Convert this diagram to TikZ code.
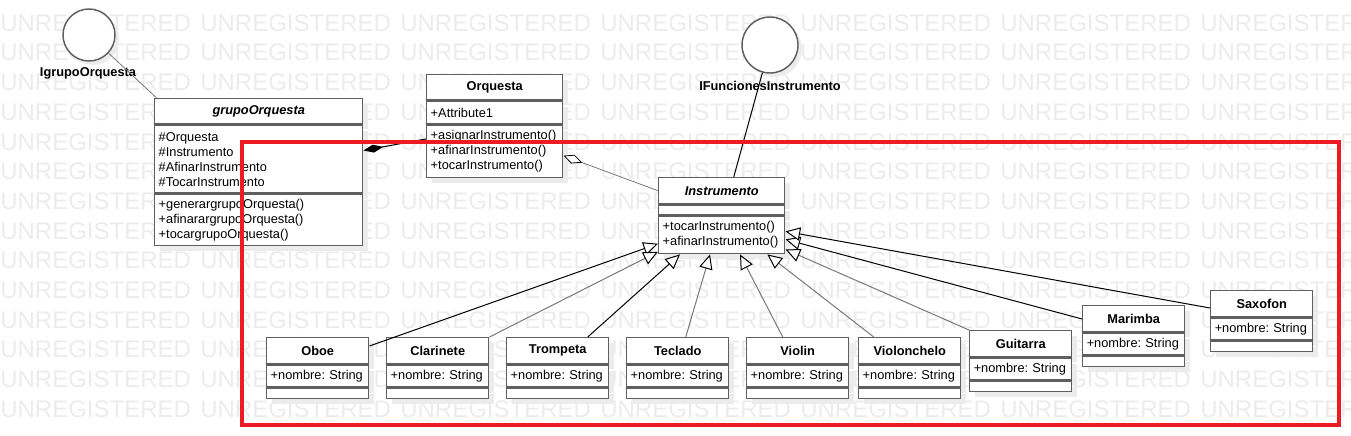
\documentclass[tikz,border=0pt]{standalone}
\usepackage{fontspec}
\setmainfont{Liberation Sans}
\usepackage{tikz}
\usetikzlibrary{arrows.meta,positioning,shadows}
\definecolor{borde}{RGB}{95,95,95}
\definecolor{gris}{RGB}{120,120,120}
\definecolor{rojo}{RGB}{237,28,36}
\definecolor{marcagris}{RGB}{236,236,236}
\definecolor{sombra}{RGB}{236,236,236}
\frenchspacing

\begin{document}
\begin{tikzpicture}[x=0.75pt,y=-0.75pt,
	caja/.style={draw=borde,line width=1.1pt,fill=white,inner xsep=3pt,inner ysep=0pt,align=left,anchor=north west,
		font=\fontsize{9.6}{11.25}\selectfont,drop shadow={shadow xshift=4pt,shadow yshift=-4pt,fill=sombra,opacity=1}},
	titulo/.style={caja,align=center,font=\fontsize{9.6}{11.25}\selectfont\bfseries},
	abstracta/.style={titulo,font=\fontsize{9.6}{11.25}\selectfont\bfseries\itshape},
	interfaz/.style={circle,draw=borde,line width=1.1pt,fill=white,inner sep=0pt,drop shadow={shadow xshift=3pt,shadow yshift=-3pt,fill=sombra,opacity=1}},
	etiq/.style={font=\fontsize{9.6}{11.25}\selectfont\bfseries,inner sep=0pt},
	marca/.style={anchor=west,inner sep=0pt,text=marcagris,font=\fontsize{18}{18}\selectfont},
	gen/.style={line width=0.75pt,-{Triangle[length=11pt,width=10pt,color=black,fill=white]}}]
	\useasboundingbox (0,0) rectangle (1351,435);
	\clip (0,0) rectangle (1351,435);
	% marca de agua
	\foreach \f in {0,...,13}{
		\foreach \c in {0,...,6}{
			\node[marca] (wm-\f-\c) at (\c*200,23+\f*29.7) {UNREGISTERED};
		}
	}
	% interfaces
	\node[interfaz,minimum size=39pt] (igo) at (89,35) {};
	\node[etiq] (igo-t) at (88,73) {IgrupoOrquesta};
	\node[interfaz,minimum size=42pt] (ifi) at (770,45) {};
	\node[etiq] (ifi-t) at (770,86) {IFuncionesInstrumento};
	% clases de arriba
	\node[abstracta,text width=150pt,minimum height=18.75pt] (grupo) at (154,98) {grupoOrquesta};
	\node[caja,text width=150pt,minimum height=51pt,below=0pt of grupo] (grupo-a) {\#Orquesta\\\#Instrumento\\\#AfinarInstrumento\\\#TocarInstrumento};
	\node[caja,text width=150pt,minimum height=38.25pt,below=0pt of grupo-a] (grupo-m) {+generargrupoOrquesta()\\+afinarargrupoOrquesta()\\+tocargrupoOrquesta()};
	\node[titulo,text width=96pt,minimum height=18.75pt] (orq) at (426,74) {Orquesta};
	\node[caja,text width=96pt,minimum height=17.25pt,below=0pt of orq] (orq-a) {+Attribute1};
	\node[caja,text width=96pt,minimum height=39pt,below=0pt of orq-a] (orq-m) {+asignarInstrumento()\\+afinarInstrumento()\\+tocarInstrumento()};
	\node[abstracta,text width=88.5pt,minimum height=19.5pt] (instr) at (658,177) {Instrumento};
	\node[caja,text width=88.5pt,minimum height=7.5pt,below=0pt of instr] (instr-a) {};
	\node[caja,text width=88.5pt,minimum height=27.75pt,below=0pt of instr-a] (instr-m) {+tocarInstrumento()\\+afinarInstrumento()};
	% instrumentos
	\foreach \n/\x/\y/\t in {oboe/266/337/Oboe,clarinete/386/337/Clarinete,trompeta/506/337/Trompeta,teclado/626/337/Teclado,violin/746/337/Violin,violonchelo/858/337/Violonchelo,guitarra/969/330/Guitarra,marimba/1082/305/Marimba,saxofon/1210/290/Saxofon}{
		\node[titulo,text width=70.5pt,minimum height=19.5pt] (\n) at (\x,\y) {\t};
		\node[caja,text width=70.5pt,minimum height=16.5pt,below=0pt of \n] (\n-a) {\mbox{+nombre: String}};
		\node[caja,text width=70.5pt,minimum height=7.5pt,below=0pt of \n-a] (\n-m) {};
	}
	% relaciones
	\draw[gris,line width=0.6pt] (igo) -- ([xshift=2pt]grupo.north west);
	\draw[line width=0.75pt] (ifi) -- ([xshift=9pt]instr.north);
	\draw[line width=0.75pt,-{Diamond[length=15pt,width=6pt]}] ([yshift=-10.5pt]orq-m.north west) -- ([yshift=-19.5pt]grupo-a.north east);
	\draw[gris,line width=0.6pt,-{Diamond[length=15pt,width=7pt,color=black,fill=white]}] (instr.west) -- ([yshift=-3pt]orq-m.east);
	\draw[gen] ([yshift=-6.75pt]oboe.north east) -- ([yshift=8pt]instr-m.south west);
	\draw[gen,gris] (clarinete.north east) -- ([yshift=2pt]instr-m.south west);
	\draw[gen] ([xshift=22.5pt]trompeta.north) -- ([xshift=16.5pt]instr-m.south west);
	\draw[gen,gris] ([xshift=6pt]teclado.north) -- ([xshift=39pt]instr-m.south west);
	\draw[gen,gris] ([xshift=-11.25pt]violin.north) -- ([xshift=61.5pt]instr-m.south west);
	\draw[gen,gris] ([xshift=-27pt]violonchelo.north) -- ([xshift=82pt]instr-m.south west);
	\draw[gen,gris] (guitarra.north west) -- ([yshift=3.75pt]instr-m.south east);
	\draw[gen] ([yshift=-10.5pt]marimba.north west) -- ([yshift=11.25pt]instr-m.south east);
	\draw[gen] ([yshift=-13.5pt]saxofon.north west) -- ([yshift=17.25pt]instr-m.south east);
	% marco rojo
	\draw[rojo,line width=3pt] (242,142) rectangle (1339,425);
\end{tikzpicture}
\end{document}
